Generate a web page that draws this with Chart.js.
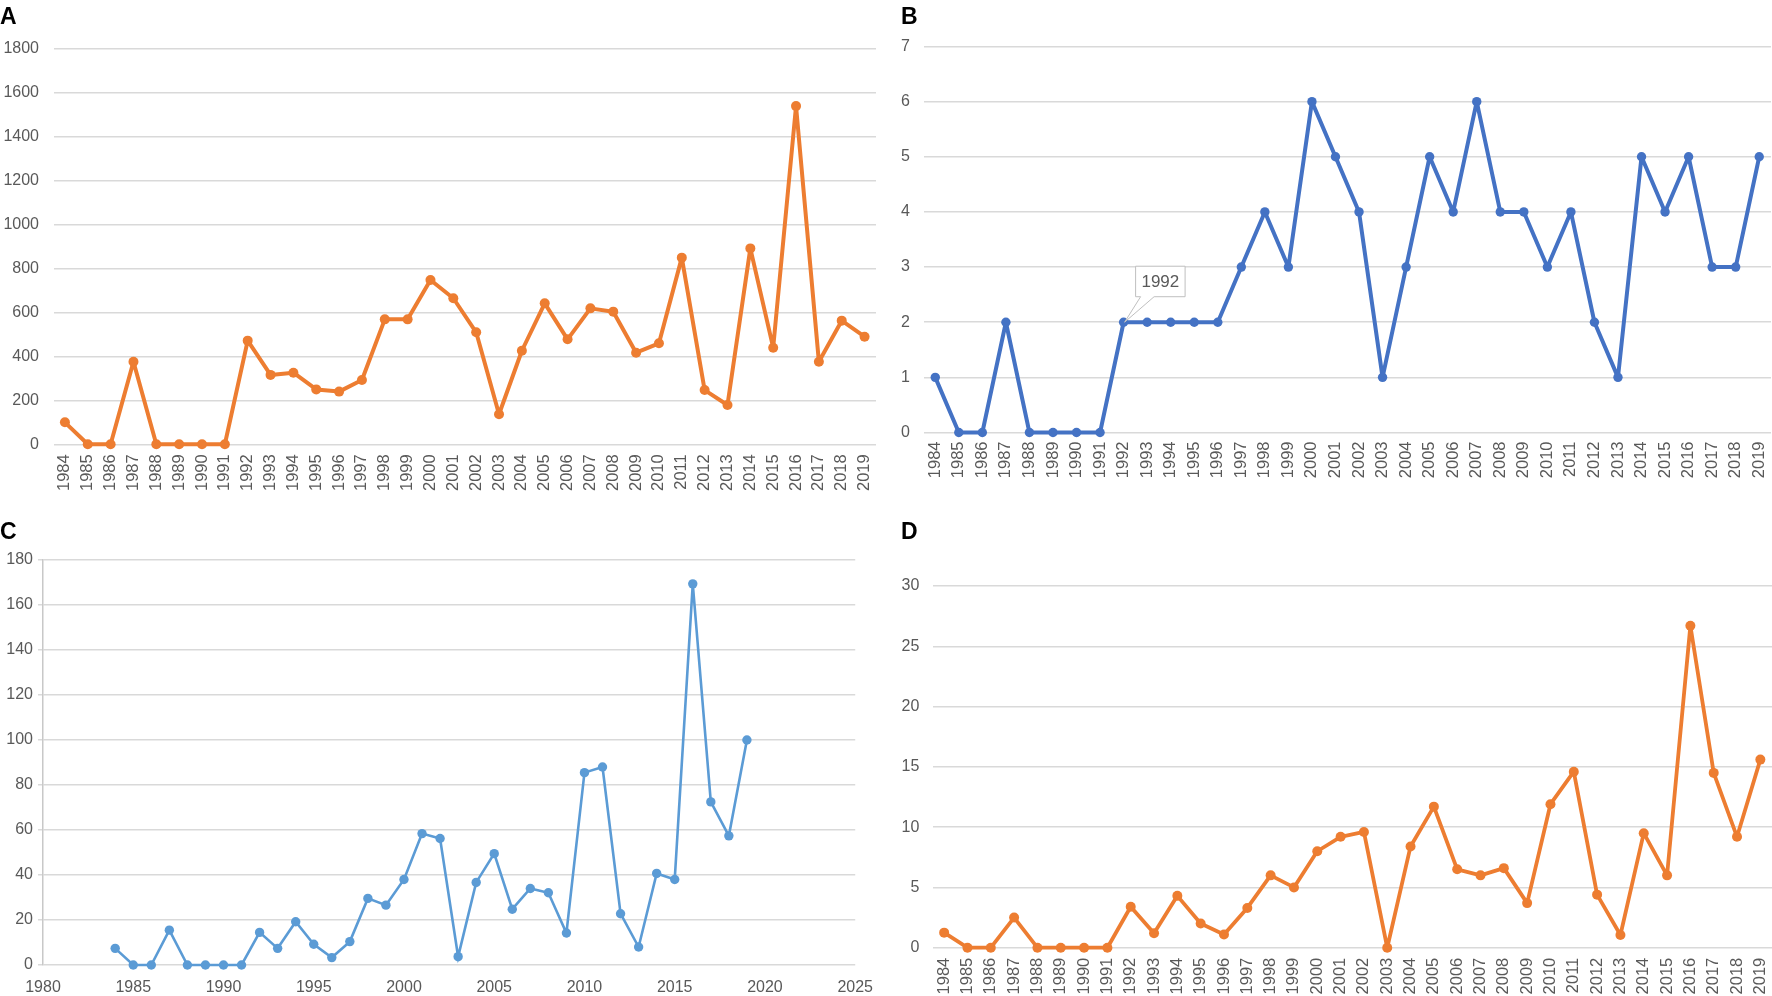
<!DOCTYPE html>
<html><head><meta charset="utf-8">
<script src="https://cdn.jsdelivr.net/npm/chart.js@4.4.1/dist/chart.umd.min.js"></script>
<style>
html,body{margin:0;padding:0;background:#fff;width:1772px;height:996px;overflow:hidden;}
#wrap{position:relative;width:1772px;height:996px;overflow:hidden;background:#fff;}
canvas{position:absolute;}
.lab{position:absolute;font-family:'Liberation Sans',Arial,sans-serif;font-weight:bold;font-size:23px;line-height:23px;color:#000;}
</style></head><body>
<div id="wrap">
<canvas id="cA" width="886" height="500" style="left:0;top:0;width:886px;height:500px"></canvas>
<canvas id="cB" width="900" height="500" style="left:886px;top:0;width:900px;height:500px"></canvas>
<canvas id="cC" width="886" height="496" style="left:0;top:500px;width:886px;height:496px"></canvas>
<canvas id="cD" width="900" height="496" style="left:886px;top:500px;width:900px;height:496px"></canvas>
<div class="lab" style="left:0px;top:4.5px">A</div>
<div class="lab" style="left:901px;top:4.5px">B</div>
<div class="lab" style="left:0px;top:520px">C</div>
<div class="lab" style="left:901px;top:520px">D</div>
</div>
<script>
// ---------- data ----------
const years = ['1984','1985','1986','1987','1988','1989','1990','1991','1992','1993','1994','1995',
  '1996','1997','1998','1999','2000','2001','2002','2003','2004','2005','2006','2007','2008','2009',
  '2010','2011','2012','2013','2014','2015','2016','2017','2018','2019'];
const seriesA = [100,0,0,376,0,0,0,0,472,316,326,250,240,293,569,569,748,665,510,137,426,642,478,619,604,417,460,850,247,179,892,440,1540,376,563,490];
const seriesB = [1,0,0,2,0,0,0,0,2,2,2,2,2,3,4,3,6,5,4,1,3,5,4,6,4,4,3,4,2,1,5,4,5,3,3,5];
const seriesC = [7.4,0,0,15.5,0,0,0,0,14.5,7.4,19.2,9.2,3.3,10.4,29.6,26.6,38,58.4,56.2,3.7,36.7,49.5,24.8,34,32.1,14.2,85.5,88,22.8,8,40.7,38,169.4,72.5,57.4,100];
const seriesD = [1.25,0,0,2.5,0,0,0,0,3.4,1.2,4.3,2.0,1.1,3.3,6.0,5.0,8.0,9.2,9.6,0,8.4,11.7,6.5,6.0,6.6,3.7,11.9,14.6,4.4,1.05,9.5,6.0,26.7,14.5,9.2,15.6];
const yAxisA = [0, 1800, 200];
const yAxisB = [0, 7, 1];
const yAxisC = [0, 180, 20];
const yAxisD = [0, 30, 5];
const xAxisC = [1980, 2025, 5];
const calloutLabelB = '1992';

// ---------- defaults ----------
Chart.defaults.font.family = "'Liberation Sans', Arial, sans-serif";
Chart.defaults.font.size = 16;
Chart.defaults.color = '#595959';
const GRID = '#d9d9d9';
const plain = v => String(v);

function catChart(id, values, yAx, color, g, extraPlugins) {
  return new Chart(document.getElementById(id), {
    type: 'line',
    data: { labels: years, datasets: [{
      data: values, borderColor: color, backgroundColor: color,
      pointBackgroundColor: color, pointBorderColor: color, pointBorderWidth: 0,
      pointRadius: g.pr, pointHoverRadius: g.pr, borderWidth: g.lw, tension: 0, clip: false,
      borderJoinStyle: 'round', borderCapStyle: 'round'
    }]},
    options: {
      responsive: false, animation: false, devicePixelRatio: 1,
      layout: { padding: { left: 0, top: g.top, right: g.right, bottom: 0 } },
      plugins: { legend: { display: false }, tooltip: { enabled: false } },
      events: [],
      scales: {
        x: {
          type: 'category', offset: true,
          grid: { display: true, drawOnChartArea: false, drawTicks: true, tickLength: g.xtl,
                  color: 'rgba(0,0,0,0)', tickColor: 'rgba(0,0,0,0)' },
          border: { display: false },
          ticks: { autoSkip: false, minRotation: 90, maxRotation: 90, padding: 0, color: '#595959', font: { size: 16.5 } },
          afterFit: s => { s.height = g.xh; }
        },
        y: {
          min: yAx[0], max: yAx[1],
          grid: { color: GRID, lineWidth: 1.5, drawTicks: false },
          border: { display: false },
          ticks: { stepSize: yAx[2], padding: g.ypad, color: '#595959', font: { size: 16 }, callback: plain },
          afterFit: s => { s.width = g.yw; }
        }
      }
    },
    plugins: extraPlugins || []
  });
}

// Panel A
catChart('cA', seriesA, yAxisA, '#ED7D31', { pr: 5, lw: 4, top: 49, right: 10, xh: 55.7, xtl: 10, yw: 53.5, ypad: 14.5 });

// Panel B with callout
const calloutPlugin = {
  id: 'callout',
  afterDatasetsDraw(chart) {
    const idx = years.indexOf(calloutLabelB);
    const pt = chart.getDatasetMeta(0).data[idx];
    if (!pt) return;
    const ctx = chart.ctx;
    const bx = pt.x + 12, by = pt.y - 56, bw = 49.5, bh = 30.5;
    ctx.save();
    ctx.fillStyle = '#ffffff';
    ctx.strokeStyle = '#bfbfbf';
    ctx.lineWidth = 1;
    ctx.beginPath();
    ctx.moveTo(bx, by);
    ctx.lineTo(bx + bw, by);
    ctx.lineTo(bx + bw, by + bh);
    ctx.lineTo(bx + 18.5, by + bh);
    ctx.lineTo(pt.x + 1, pt.y);
    ctx.lineTo(bx + 5, by + bh);
    ctx.lineTo(bx, by + bh);
    ctx.closePath();
    ctx.fill();
    ctx.stroke();
    ctx.fillStyle = '#595959';
    ctx.font = "17px 'Liberation Sans', Arial, sans-serif";
    ctx.textAlign = 'center';
    ctx.textBaseline = 'middle';
    ctx.fillText(calloutLabelB, bx + bw / 2, by + bh / 2 + 1);
    ctx.restore();
  }
};
catChart('cB', seriesB, yAxisB, '#4472C4', { pr: 4.7, lw: 4, top: 46.5, right: 15, xh: 67.5, xtl: 9, yw: 37.5, ypad: 13.5 }, [calloutPlugin]);

// Panel D
catChart('cD', seriesD, yAxisD, '#ED7D31', { pr: 5, lw: 3.8, top: 86, right: 14, xh: 48.3, xtl: 10, yw: 46.5, ypad: 13.2 });

// Panel C (linear x axis)
new Chart(document.getElementById('cC'), {
  type: 'line',
  data: { datasets: [{
    data: years.map((y, i) => ({ x: Number(y), y: seriesC[i] })),
    borderColor: '#5B9BD5', backgroundColor: '#5B9BD5',
    pointBackgroundColor: '#5B9BD5', pointBorderColor: '#5B9BD5', pointBorderWidth: 0,
    pointRadius: 4.7, pointHoverRadius: 4.7, borderWidth: 2.6, tension: 0, clip: false
  }]},
  options: {
    responsive: false, animation: false, devicePixelRatio: 1,
    layout: { padding: { left: 0, top: 60, right: 28, bottom: 0 } },
    plugins: { legend: { display: false }, tooltip: { enabled: false } },
    events: [],
    scales: {
      x: {
        type: 'linear', min: xAxisC[0], max: xAxisC[1],
        grid: { display: false, drawTicks: false },
        border: { display: false },
        ticks: { stepSize: xAxisC[2], padding: 13, color: '#595959', font: { size: 16 }, callback: plain },
        afterFit: s => { s.height = 31; }
      },
      y: {
        min: yAxisC[0], max: yAxisC[1],
        grid: { color: GRID, lineWidth: 1.5, drawTicks: true, tickLength: 5, tickColor: GRID },
        border: { display: true, color: '#c8c8c8', width: 1.5 },
        ticks: { stepSize: yAxisC[2], padding: 5, color: '#595959', font: { size: 16 }, callback: plain },
        afterFit: s => { s.width = 43; }
      }
    }
  }
});
</script>
</body></html>
